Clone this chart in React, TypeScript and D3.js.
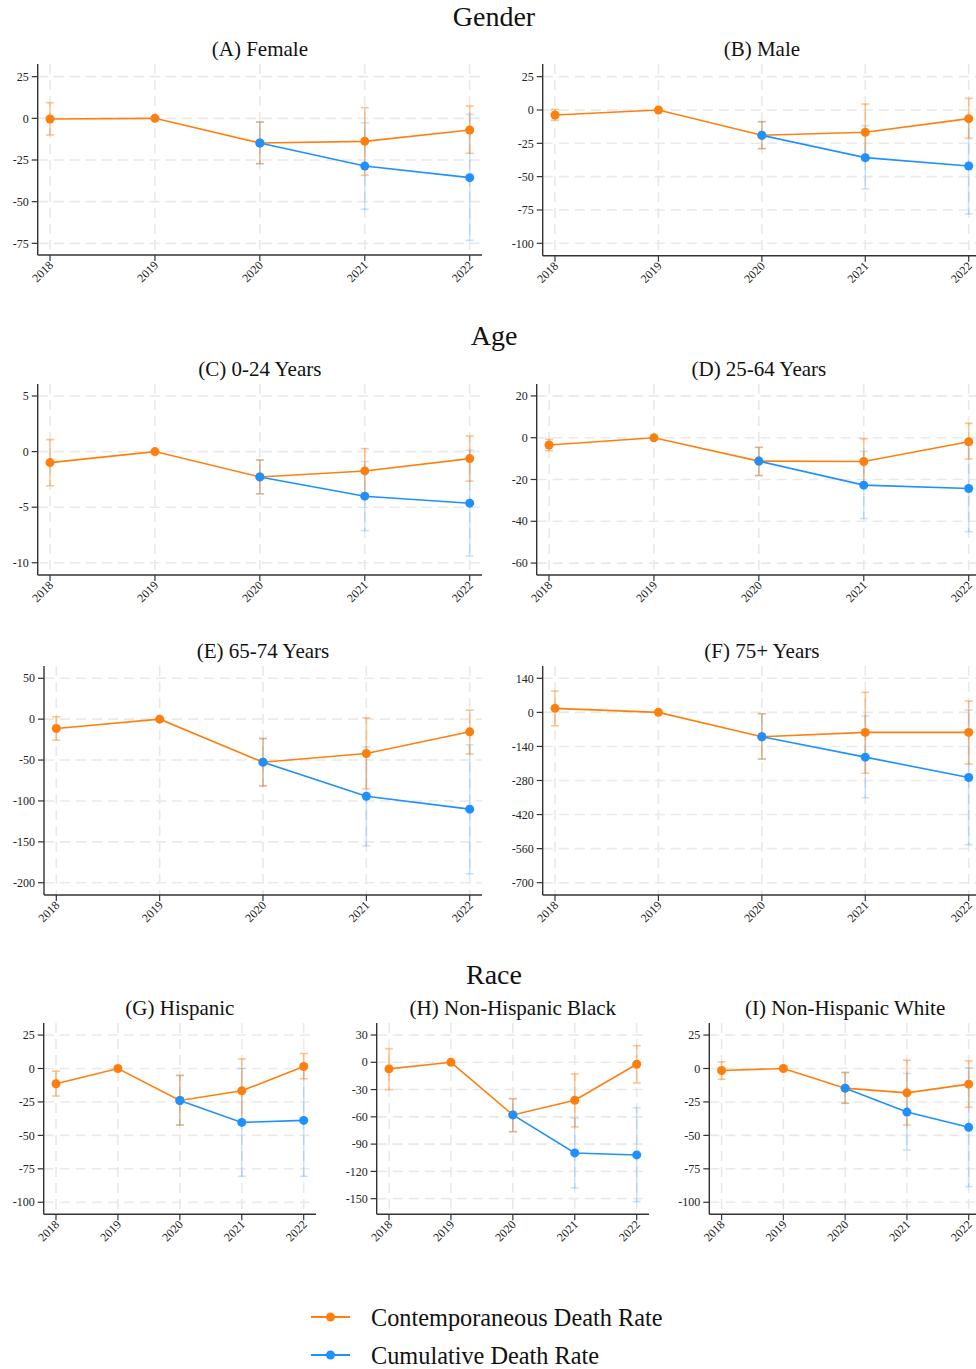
import React from "react";
import * as d3 from "d3";

const years = [2018, 2019, 2020, 2021, 2022];
const cumYears = [2020, 2021, 2022];

// Panel A Female
const femaleContemp = [-0.4, 0, -14.8, -13.8, -7.0];
const femaleContempLo = [-10, null, -27.2, -34.2, -21];
const femaleContempHi = [9.4, null, -2.2, 6.4, 7.4];
const femaleCum = [-14.8, -28.6, -35.6];
const femaleCumLo = [-27.2, -54.6, -73.2];
const femaleCumHi = [-2.2, -2.6, 2.4];
const femaleTicks = [25, 0, -25, -50, -75];
const femaleDomain = [-82, 32.6];

// Panel B Male
const maleContemp = [-3.75, 0, -19, -16.75, -6.5];
const maleContempLo = [-7.75, null, -29, -38, -21.25];
const maleContempHi = [0.5, null, -8.75, 4.5, 8.75];
const maleCum = [-19, -35.75, -42];
const maleCumLo = [-29, -59.25, -78];
const maleCumHi = [-8.75, -11.75, -6];
const maleTicks = [25, 0, -25, -50, -75, -100];
const maleDomain = [-109.3, 34.5];

// Panel C 0-24
const ageC_Contemp = [-0.99, 0, -2.28, -1.74, -0.63];
const ageC_ContempLo = [-3.08, null, -3.8, -3.75, -2.66];
const ageC_ContempHi = [1.08, null, -0.75, 0.27, 1.41];
const ageC_Cum = [-2.28, -4.01, -4.64];
const ageC_CumLo = [-3.8, -7.1, -9.4];
const ageC_CumHi = [-0.75, -0.9, 0.12];
const ageC_Ticks = [5, 0, -5, -10];
const ageC_Domain = [-11.1, 6.08];

// Panel D 25-64
const ageD_Contemp = [-3.5, 0, -11.2, -11.4, -1.9];
const ageD_ContempLo = [-6.2, null, -18.1, -22.3, -10.2];
const ageD_ContempHi = [-0.8, null, -4.6, -0.5, 6.9];
const ageD_Cum = [-11.2, -22.7, -24.3];
const ageD_CumLo = [-18.1, -38.7, -45];
const ageD_CumHi = [-4.6, -6.6, -3.6];
const ageD_Ticks = [20, 0, -20, -40, -60];
const ageD_Domain = [-65.7, 25.7];

// Panel E 65-74
const ageE_Contemp = [-11.4, 0, -52.6, -42, -15.5];
const ageE_ContempLo = [-25.7, null, -81.6, -85.2, -42.4];
const ageE_ContempHi = [2.9, null, -23.7, 1.6, 11];
const ageE_Cum = [-52.6, -94.3, -110];
const ageE_CumLo = [-81.6, -155, -189];
const ageE_CumHi = [-23.7, -33.9, -31.4];
const ageE_Ticks = [50, 0, -50, -100, -150, -200];
const ageE_Domain = [-215, 65];

// Panel F 75+
const ageF_Contemp = [16.5, 0, -100, -82.4, -82.4];
const ageF_ContempLo = [-54.9, null, -192, -250, -212.7];
const ageF_ContempHi = [87.8, null, -5.5, 82.4, 46.7];
const ageF_Cum = [-100, -184, -267.6];
const ageF_CumLo = [-192, -351, -543.5];
const ageF_CumHi = [-5.5, -15, 9.6];
const ageF_Ticks = [140, 0, -140, -280, -420, -560, -700];
const ageF_Domain = [-750.6, 190.6];

// Panel G Hispanic
const hispContemp = [-11.4, 0, -23.9, -16.7, 1.5];
const hispContempLo = [-20.6, null, -42.3, -40.6, -7.7];
const hispContempHi = [-2, null, -5.2, 7.2, 11.2];
const hispCum = [-23.9, -40.3, -38.8];
const hispCumLo = [-42.3, -80.6, -80.6];
const hispCumHi = [-5.2, 0, 3];
const hispTicks = [25, 0, -25, -50, -75, -100];
const hispDomain = [-109, 34];

// Panel H Non-Hispanic Black
const blackContemp = [-7.3, 0, -57.9, -41.8, -2.2];
const blackContempLo = [-30, null, -76.3, -71.1, -22.7];
const blackContempHi = [15, null, -40, -12.8, 18.3];
const blackCum = [-57.9, -99.7, -101.9];
const blackCumLo = [-76.3, -138.2, -153.3];
const blackCumHi = [-40, -61.6, -49.9];
const blackTicks = [30, 0, -30, -60, -90, -120, -150];
const blackDomain = [-167.2, 43.2];

// Panel I Non-Hispanic White
const whiteContemp = [-1.5, 0, -14.7, -18.2, -11.7];
const whiteContempLo = [-8, null, -26, -42.3, -29];
const whiteContempHi = [5, null, -3, 6.2, 5.7];
const whiteCum = [-14.7, -32.6, -44];
const whiteCumLo = [-26, -61, -88.3];
const whiteCumHi = [-3, -3.7, 0.5];
const whiteTicks = [25, 0, -25, -50, -75, -100];
const whiteDomain = [-109, 34];

const sectionTitles = ["Gender", "Age", "Race"];
const legendLabels = ["Contemporaneous Death Rate", "Cumulative Death Rate"];

const ORANGE = "#ff7f0e";
const BLUE = "#1e90ff";
const FONT = "'Liberation Serif', 'Times New Roman', serif";

type PanelData = {
  title: string;
  c: number[]; cLo: (number | null)[]; cHi: (number | null)[];
  u: number[]; uLo: number[]; uHi: number[];
  ticks: number[]; domain: number[];
};

const panels: PanelData[] = [
  { title: "(A) Female", c: femaleContemp, cLo: femaleContempLo, cHi: femaleContempHi, u: femaleCum, uLo: femaleCumLo, uHi: femaleCumHi, ticks: femaleTicks, domain: femaleDomain },
  { title: "(B) Male", c: maleContemp, cLo: maleContempLo, cHi: maleContempHi, u: maleCum, uLo: maleCumLo, uHi: maleCumHi, ticks: maleTicks, domain: maleDomain },
  { title: "(C) 0-24 Years", c: ageC_Contemp, cLo: ageC_ContempLo, cHi: ageC_ContempHi, u: ageC_Cum, uLo: ageC_CumLo, uHi: ageC_CumHi, ticks: ageC_Ticks, domain: ageC_Domain },
  { title: "(D) 25-64 Years", c: ageD_Contemp, cLo: ageD_ContempLo, cHi: ageD_ContempHi, u: ageD_Cum, uLo: ageD_CumLo, uHi: ageD_CumHi, ticks: ageD_Ticks, domain: ageD_Domain },
  { title: "(E) 65-74 Years", c: ageE_Contemp, cLo: ageE_ContempLo, cHi: ageE_ContempHi, u: ageE_Cum, uLo: ageE_CumLo, uHi: ageE_CumHi, ticks: ageE_Ticks, domain: ageE_Domain },
  { title: "(F) 75+ Years", c: ageF_Contemp, cLo: ageF_ContempLo, cHi: ageF_ContempHi, u: ageF_Cum, uLo: ageF_CumLo, uHi: ageF_CumHi, ticks: ageF_Ticks, domain: ageF_Domain },
  { title: "(G) Hispanic", c: hispContemp, cLo: hispContempLo, cHi: hispContempHi, u: hispCum, uLo: hispCumLo, uHi: hispCumHi, ticks: hispTicks, domain: hispDomain },
  { title: "(H) Non-Hispanic Black", c: blackContemp, cLo: blackContempLo, cHi: blackContempHi, u: blackCum, uLo: blackCumLo, uHi: blackCumHi, ticks: blackTicks, domain: blackDomain },
  { title: "(I) Non-Hispanic White", c: whiteContemp, cLo: whiteContempLo, cHi: whiteContempHi, u: whiteCum, uLo: whiteCumLo, uHi: whiteCumHi, ticks: whiteTicks, domain: whiteDomain },
];

// layout boxes: left axis x, right end, top, bottom
const boxes = [
  { l: 37.7, r: 482, t: 64, b: 255 },
  { l: 542.7, r: 981, t: 64, b: 255.7 },
  { l: 37.7, r: 482, t: 384, b: 575 },
  { l: 536.7, r: 981, t: 384, b: 575 },
  { l: 44, r: 482, t: 666, b: 895 },
  { l: 542.7, r: 981, t: 666, b: 895 },
  { l: 43.7, r: 316, t: 1023, b: 1214.3 },
  { l: 376.7, r: 649, t: 1023, b: 1214.3 },
  { l: 709.3, r: 981, t: 1023, b: 1214.3 },
];
const titleY = [56, 56, 376, 376, 658, 658, 1015, 1015, 1015];
const sectionPos = [26, 345, 984];

function Panel({ p, box, ty }: { p: PanelData; box: any; ty: number }) {
  const x = d3.scaleLinear().domain([2018, 2022]).range([box.l + 12.3, box.r - 12.3]);
  const y = d3.scaleLinear().domain(p.domain).range([box.b, box.t]);
  const line = d3.line<[number, number]>().x((d) => x(d[0])).y((d) => y(d[1]));
  const cPts: [number, number][] = years.map((yr, i) => [yr, p.c[i]]);
  const uPts: [number, number][] = cumYears.map((yr, i) => [yr, p.u[i]]);
  const cap = 4;
  const errBar = (xv: number, lo: number, hi: number, color: string, op: number, key: string) => (
    <g key={key} stroke={color} strokeOpacity={op} strokeWidth={1.6} fill="none">
      <line x1={x(xv)} x2={x(xv)} y1={y(lo)} y2={y(hi)} />
      <line x1={x(xv) - cap} x2={x(xv) + cap} y1={y(lo)} y2={y(lo)} />
      <line x1={x(xv) - cap} x2={x(xv) + cap} y1={y(hi)} y2={y(hi)} />
    </g>
  );
  return (
    <g>
      <text x={(box.l + box.r) / 2} y={ty} textAnchor="middle" fontFamily={FONT} fontSize={21} fill="#111">{p.title}</text>
      {p.ticks.map((t) => (
        <line key={"h" + t} x1={box.l} x2={box.r} y1={y(t)} y2={y(t)} stroke="#e9e9e9" strokeWidth={1.6} strokeDasharray="10,6" />
      ))}
      {years.map((yr) => (
        <line key={"v" + yr} x1={x(yr)} x2={x(yr)} y1={box.t} y2={box.b} stroke="#e9e9e9" strokeWidth={1.6} strokeDasharray="10,6" />
      ))}
      {cumYears.map((yr, i) => errBar(yr, p.uLo[i], p.uHi[i], BLUE, 0.25, "ue" + yr))}
      {years.map((yr, i) =>
        p.cLo[i] == null ? null : errBar(yr, p.cLo[i] as number, p.cHi[i] as number, ORANGE, 0.45, "ce" + yr)
      )}
      <path d={line(cPts) || ""} fill="none" stroke={ORANGE} strokeWidth={1.6} />
      {cPts.map((d) => (
        <circle key={"cp" + d[0]} cx={x(d[0])} cy={y(d[1])} r={4.5} fill={ORANGE} />
      ))}
      <path d={line(uPts) || ""} fill="none" stroke={BLUE} strokeWidth={1.6} />
      {uPts.map((d) => (
        <circle key={"up" + d[0]} cx={x(d[0])} cy={y(d[1])} r={4.5} fill={BLUE} />
      ))}
      <line x1={box.l} x2={box.l} y1={box.t} y2={box.b} stroke="#333" strokeWidth={1.4} />
      <line x1={box.l} x2={box.r} y1={box.b} y2={box.b} stroke="#333" strokeWidth={1.4} />
      {p.ticks.map((t) => (
        <g key={"yt" + t}>
          <line x1={box.l - 6} x2={box.l} y1={y(t)} y2={y(t)} stroke="#333" strokeWidth={1.2} />
          <text x={box.l - 9} y={y(t)} dy="0.35em" textAnchor="end" fontFamily={FONT} fontSize={12} fill="#222">{t}</text>
        </g>
      ))}
      {years.map((yr) => (
        <g key={"xt" + yr}>
          <line x1={x(yr)} x2={x(yr)} y1={box.b} y2={box.b + 6} stroke="#333" strokeWidth={1.2} />
          <text transform={`translate(${x(yr) + 4},${box.b + 11}) rotate(-45)`} textAnchor="end" fontFamily={FONT} fontSize={12} fill="#222">{yr}</text>
        </g>
      ))}
    </g>
  );
}

export default function App() {
  return (
    <svg width={976} height={1369} style={{ display: "block", position: "absolute", left: 0, top: 0, background: "#fff" }}>
      <rect width={976} height={1369} fill="#fff" />
      {sectionTitles.map((s, i) => (
        <text key={s} x={494} y={sectionPos[i]} textAnchor="middle" fontFamily={FONT} fontSize={28} fill="#111">{s}</text>
      ))}
      {panels.map((p, i) => (
        <Panel key={p.title} p={p} box={boxes[i]} ty={titleY[i]} />
      ))}
      {legendLabels.map((lab, i) => {
        const ly = 1317 + i * 38;
        const col = i === 0 ? ORANGE : BLUE;
        return (
          <g key={lab}>
            <line x1={311} x2={350} y1={ly} y2={ly} stroke={col} strokeWidth={2} />
            <circle cx={330.5} cy={ly} r={4.5} fill={col} />
            <text x={371} y={ly} dy="0.35em" fontFamily={FONT} fontSize={24.3} fill="#111">{lab}</text>
          </g>
        );
      })}
    </svg>
  );
}
